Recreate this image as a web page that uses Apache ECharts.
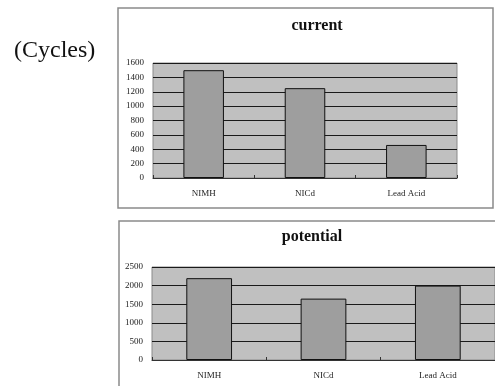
<!DOCTYPE html>
<html>
<head>
<meta charset="utf-8">
<script src="https://cdn.jsdelivr.net/npm/echarts@6/dist/echarts.min.js"></script>
<style>
  html, body { margin: 0; padding: 0; background: #ffffff; }
  #chart { width: 495px; height: 386px; }
</style>
</head>
<body>
<div id="chart"></div>
<script>
// Battery types and their cycle life
const categories = ['NIMH', 'NICd', 'Lead Acid'];
const currentCycles = [1500, 1250, 460];
const potentialCycles = [2200, 1650, 2000];
const currentTicks = { min: 0, max: 1600, step: 200 };
const potentialTicks = { min: 0, max: 2500, step: 500 };

const serif = '"Liberation Serif", "Times New Roman", serif';
const plotBg = '#c0c0c0';
const barFill = '#9e9e9e';
const frame = '#8a8a8a';

function xAxisFor(gridIndex) {
  return {
    type: 'category',
    gridIndex: gridIndex,
    data: categories,
    axisLine: { lineStyle: { color: '#333', width: 1 } },
    axisTick: { show: true, inside: true, length: 3, lineStyle: { color: '#333' } },
    axisLabel: { fontFamily: serif, fontSize: 9, color: '#222', margin: 11 }
  };
}

function yAxisFor(gridIndex, t) {
  return {
    type: 'value',
    gridIndex: gridIndex,
    min: t.min,
    max: t.max,
    interval: t.step,
    axisLine: { show: false },
    axisTick: { show: false },
    axisLabel: { fontFamily: serif, fontSize: 9, color: '#222', margin: 9,
      formatter: function (v) { return String(v); } },
    splitLine: { show: true, lineStyle: { color: '#1a1a1a', width: 1 } }
  };
}

function barSeries(idx, data) {
  return {
    type: 'bar',
    xAxisIndex: idx,
    yAxisIndex: idx,
    data: data,
    barCategoryGap: '60%',
    itemStyle: { color: barFill, borderColor: '#111', borderWidth: 1 },
    animation: false
  };
}

const chart = echarts.init(document.getElementById('chart'), null, { renderer: 'canvas' });
chart.setOption({
  animation: false,
  grid: [
    { left: 153, top: 63, width: 304, height: 115, show: true,
      backgroundColor: plotBg, borderColor: frame, borderWidth: 1 },
    { left: 152, top: 267, width: 348, height: 93, show: true,
      backgroundColor: plotBg, borderColor: frame, borderWidth: 1 }
  ],
  xAxis: [xAxisFor(0), xAxisFor(1)],
  yAxis: [yAxisFor(0, currentTicks), yAxisFor(1, potentialTicks)],
  series: [barSeries(0, currentCycles), barSeries(1, potentialCycles)],
  graphic: [
    { type: 'rect', z: -10, shape: { x: 118, y: 8, width: 375, height: 200 },
      style: { fill: '#fff', stroke: frame, lineWidth: 1.5 } },
    { type: 'rect', z: -10, shape: { x: 119, y: 221, width: 400, height: 200 },
      style: { fill: '#fff', stroke: frame, lineWidth: 1.5 } },
    { type: 'text', style: { x: 317, y: 26, text: 'current', align: 'center', verticalAlign: 'middle',
      font: 'bold 16px ' + serif, fill: '#111' } },
    { type: 'text', style: { x: 312, y: 237, text: 'potential', align: 'center', verticalAlign: 'middle',
      font: 'bold 16px ' + serif, fill: '#111' } },
    { type: 'text', style: { x: 14, y: 51, text: '(Cycles)', align: 'left', verticalAlign: 'middle',
      font: '24px ' + serif, fill: '#111' } }
  ]
});
</script>
</body>
</html>
